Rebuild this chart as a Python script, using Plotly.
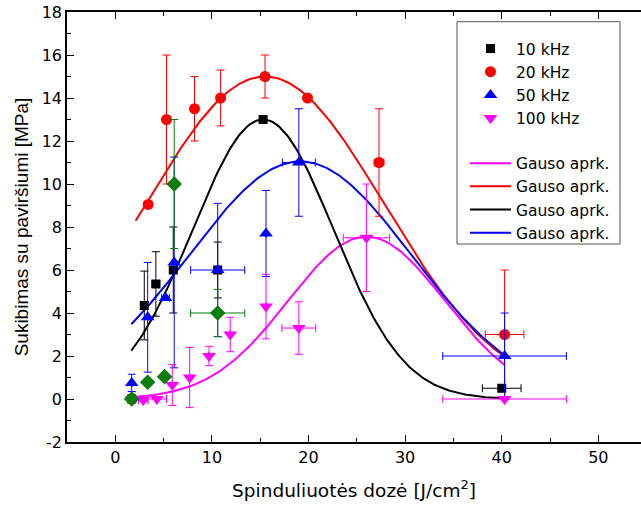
import numpy as np
import plotly.graph_objects as go

# ---- measured adhesion vs. radiation dose ----
dose_10 = [1.7, 3.0, 4.2, 6.0, 10.6, 15.3, 40.0]
adh_10 = [0.0, 4.35, 5.35, 6.0, 6.0, 13.0, 0.5]
err_10 = [None, 1.6, 1.5, 2.0, 1.3, None, None]
xerr_10 = [None, None, 0.4, None, None, None, 2.0]

dose_20 = [1.7, 3.4, 5.3, 8.2, 10.9, 15.5, 19.9, 27.3, 40.3]
adh_20 = [0.0, 9.05, 13.0, 13.5, 14.0, 15.0, 14.0, 11.0, 3.0]
err_20 = [None, None, 3.0, 1.5, 1.3, 1.0, None, 2.5, 3.0]
xerr_20 = [None, None, None, None, None, None, None, 0.5, 2.0]

dose_50 = [1.7, 3.35, 5.2, 6.1, 10.6, 15.6, 19.0, 40.3]
adh_50 = [0.75, 3.8, 4.7, 6.35, 6.0, 7.7, 11.0, 2.0]
err_50 = [0.4, 2.55, None, 4.9, 3.1, 2.0, 2.5, 2.0]
xerr_50 = [None, None, 0.4, None, 2.8, None, 1.7, 6.4]

dose_100 = [1.7, 2.9, 4.3, 5.9, 7.7, 9.7, 11.9, 15.6, 19.0, 26.0, 40.3]
adh_100 = [0.0, -0.05, 0.0, 0.65, 1.0, 2.0, 3.0, 4.3, 3.3, 7.5, 0.0]
err_100 = [None, None, None, 0.95, 1.4, 0.45, 0.8, 1.5, 1.22, 2.5, None]
xerr_100 = [None, 0.5, 1.0, None, None, None, None, None, 1.75, 2.4, 6.4]

dose_extra = [1.7, 3.35, 5.1, 6.1, 10.6]
adh_extra = [0.0, 0.78, 1.04, 10.0, 4.0]
err_extra = [None, None, None, 3.0, 1.1]
xerr_extra = [None, None, None, 0.3, 2.8]

# ---- Gaussian fit parameters: (centre, width, amplitude, x-start, x-end) ----
fit_10 = (15.3, 7.28, 13.0, 1.66, 40.3)
fit_20 = (15.5, 12.3, 15.0, 2.1, 40.3)
fit_50 = (19.15, 11.5, 11.05, 1.66, 40.3)
fit_100 = (26.0, 8.09, 7.55, 1.66, 40.3)

x_ticks = [0, 10, 20, 30, 40, 50]
y_ticks = [-2, 0, 2, 4, 6, 8, 10, 12, 14, 16, 18]

FONT = "DejaVu Sans, Arial, sans-serif"
FONT_Y = "Liberation Sans, Arial, sans-serif"
BLACK, RED, BLUE, MAGENTA, GREEN = "#000000", "#ff0000", "#0000ff", "#ff00ff", "#0a7d0a"

# plot-area geometry in pixels
L, T, B, W, H = 67, 12, 65, 574, 430


def gauss_curve(params):
    xc, w, a, x0, x1 = params
    xs = np.linspace(x0, x1, 200)
    return xs, a * np.exp(-((xs - xc) ** 2) / (2 * w ** 2))


def err(arr, color):
    return dict(type="data", array=arr, color=color, thickness=1, width=4, visible=True)


fig = go.Figure()

# fitted curves (drawn beneath the points)
for params, color, rank in [(fit_100, MAGENTA, 5), (fit_20, RED, 6), (fit_10, BLACK, 7), (fit_50, BLUE, 8)]:
    xs, ys = gauss_curve(params)
    fig.add_trace(go.Scatter(
        x=xs, y=ys, mode="lines", line=dict(color=color, width=2),
        name="Gauso aprk.", legendgroup="fit", legendrank=rank,
    ))

# measured points with error bars
series = [
    (dose_10, adh_10, err_10, xerr_10, BLACK, "square", 9, "10 kHz", 1, True),
    (dose_20, adh_20, err_20, xerr_20, RED, "circle", 11, "20 kHz", 2, True),
    (dose_50, adh_50, err_50, xerr_50, BLUE, "triangle-up", 12, "50 kHz", 3, True),
    (dose_100, adh_100, err_100, xerr_100, MAGENTA, "triangle-down", 12, "100 kHz", 4, True),
    (dose_extra, adh_extra, err_extra, xerr_extra, GREEN, "diamond", 12, "kiti", 9, False),
]
for xs, ys, ey, ex, color, sym, size, name, rank, show in series:
    fig.add_trace(go.Scatter(
        x=xs, y=ys, mode="markers",
        marker=dict(symbol=sym, size=size, color=color, line=dict(width=0)),
        error_y=err(ey, color), error_x=err(ex, color),
        name=name, showlegend=show, legendgroup="pts", legendrank=rank,
    ))

# legend frame
fig.add_shape(type="rect", xref="paper", yref="paper",
              x0=(457 - L) / W, x1=(620 - L) / W,
              y0=(T + H - 244) / H, y1=(T + H - 21.7) / H,
              line=dict(color="#555555", width=1), fillcolor="white", layer="below")

fig.update_layout(
    width=641, height=507,
    margin=dict(l=L, r=0, t=T, b=B),
    paper_bgcolor="white", plot_bgcolor="white",
    font=dict(family=FONT, size=16, color="black"),
    showlegend=True,
    legend=dict(
        x=(465 - L) / W, y=(T + H - 32) / H, xanchor="left", yanchor="top",
        bgcolor="rgba(0,0,0,0)", borderwidth=0,
        traceorder="grouped", tracegroupgap=22,
        font=dict(family=FONT, size=15.5), itemwidth=41,
    ),
    xaxis=dict(
        range=[-5, -5 + W / 9.66], tickvals=x_ticks, ticktext=[str(v) for v in x_ticks],
        showgrid=False, zeroline=False, showline=True, linecolor="black", linewidth=1.5,
        mirror="ticks", ticks="inside", ticklen=7, tickwidth=1.2, tickcolor="black",
        minor=dict(dtick=5, ticks="inside", ticklen=4, tickcolor="black", tickwidth=1.2, showgrid=False),
        title=dict(text="Spinduliuotės dozė [J/cm<sup>2</sup>]", font=dict(family=FONT, size=18.5), standoff=18),
        tickfont=dict(family=FONT, size=16),
    ),
    yaxis=dict(
        range=[-2, 18], tickvals=y_ticks, ticktext=[str(v) for v in y_ticks],
        showgrid=False, zeroline=False, showline=True, linecolor="black", linewidth=1.5,
        mirror=False, ticks="inside", ticklen=7, tickwidth=1.2, tickcolor="black",
        minor=dict(dtick=1, ticks="inside", ticklen=4, tickcolor="black", tickwidth=1.2, showgrid=False),
        title=dict(text="Sukibimas su paviršiumi [MPa]", font=dict(family=FONT_Y, size=19), standoff=8),
        tickfont=dict(family=FONT, size=16),
    ),
)

fig.write_html("out.html")
